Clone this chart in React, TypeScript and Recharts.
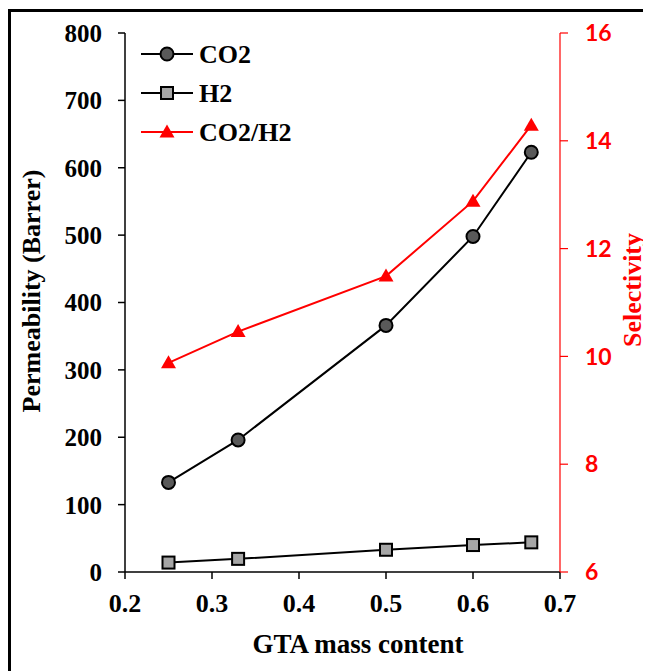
import React from 'react';
import { LineChart, Line, XAxis, YAxis, Legend } from 'recharts';

const gtaContent = [0.25, 0.33, 0.5, 0.6, 0.667];
const co2Permeability = [133, 196, 366, 498, 623];
const h2Permeability = [14, 19.5, 33, 40, 44];
const selectivity = [9.88, 10.46, 11.49, 12.88, 14.29];
const xTicks = [0.2, 0.3, 0.4, 0.5, 0.6, 0.7];
const leftTicks = [0, 100, 200, 300, 400, 500, 600, 700, 800];
const rightTicks = [6, 8, 10, 12, 14, 16];

const data = gtaContent.map((x, i) => ({
  x,
  co2: co2Permeability[i],
  h2: h2Permeability[i],
  sel: selectivity[i],
}));

const SERIF = '"Liberation Serif", "Times New Roman", serif';
const RED = '#FF0000';

const CircleDot = (p: any) => {
  if (p.cx == null || p.cy == null) return null;
  return <circle key={`c-${p.index}`} cx={p.cx} cy={p.cy} r={6.5} fill="#595959" stroke="#000" strokeWidth={2} />;
};

const SquareDot = (p: any) => {
  if (p.cx == null || p.cy == null) return null;
  return <rect key={`s-${p.index}`} x={p.cx - 6} y={p.cy - 6} width={12} height={12} fill="#A6A6A6" stroke="#000" strokeWidth={2} />;
};

const TriangleDot = (p: any) => {
  if (p.cx == null || p.cy == null) return null;
  const { cx, cy } = p;
  return <path key={`t-${p.index}`} d={`M${cx},${cy - 7.5} L${cx + 7.5},${cy + 5.5} L${cx - 7.5},${cy + 5.5} Z`} fill={RED} />;
};

const legendRows = [
  { name: 'CO2', color: '#000', marker: 'circle' },
  { name: 'H2', color: '#000', marker: 'square' },
  { name: 'CO2/H2', color: RED, marker: 'triangle' },
];

const LegendContent = () => (
  <svg width={220} height={125}>
    {legendRows.map((r, i) => {
      const y = 20 + i * 39;
      const cx = 26;
      return (
        <g key={r.name}>
          <line x1={0} x2={52} y1={y} y2={y} stroke={r.color} strokeWidth={2} />
          {r.marker === 'circle' && <circle cx={cx} cy={y} r={6.5} fill="#595959" stroke="#000" strokeWidth={2} />}
          {r.marker === 'square' && <rect x={cx - 6} y={y - 6} width={12} height={12} fill="#A6A6A6" stroke="#000" strokeWidth={2} />}
          {r.marker === 'triangle' && <path d={`M${cx},${y - 7.5} L${cx + 7.5},${y + 5.5} L${cx - 7.5},${y + 5.5} Z`} fill={RED} />}
          <text x={58} y={y + 9} fontFamily={SERIF} fontWeight="bold" fontSize={26} fill="#000">{r.name}</text>
        </g>
      );
    })}
  </svg>
);

const RotatedLabel = ({ text, cx, cy, color }: { text: string; cx: number; cy: number; color: string }) => (
  <text
    x={cx}
    y={cy}
    transform={`rotate(-90 ${cx} ${cy})`}
    textAnchor="middle"
    dominantBaseline="central"
    fontFamily={SERIF}
    fontWeight="bold"
    fontSize={26}
    fill={color}
  >
    {text}
  </text>
);

export default function App() {
  return (
    <div style={{ position: 'relative', width: 643, height: 663, overflow: 'hidden', background: '#fff' }}>
      <div
        style={{
          position: 'absolute', left: 0, top: 1, width: 700, height: 720,
          border: '3px solid #000', boxSizing: 'border-box',
        }}
      />
      <div style={{ position: 'absolute', left: 0, top: 0 }}>
        <LineChart width={643} height={663} data={data} margin={{ top: 25, right: 0, bottom: 0, left: 0 }}>
          <XAxis
            dataKey="x"
            type="number"
            domain={[0.2, 0.7]}
            ticks={xTicks}
            tickFormatter={(v) => v.toFixed(1)}
            height={99}
            stroke="#000"
            strokeWidth={1.5}
            tickSize={7}
            tickMargin={15}
            tick={{ fill: '#000', fontSize: 26, fontFamily: SERIF, fontWeight: 'bold' }}
            label={{
              content: () => (
                <text x={350} y={645} textAnchor="middle" fontFamily={SERIF} fontWeight="bold" fontSize={27} fill="#000">
                  GTA mass content
                </text>
              ),
            }}
          />
          <YAxis
            yAxisId="perm"
            domain={[0, 800]}
            ticks={leftTicks}
            width={117}
            stroke="#000"
            strokeWidth={1.5}
            tickSize={7}
            tickMargin={16}
            tick={{ fill: '#000', fontSize: 25, fontFamily: SERIF, fontWeight: 'bold' }}
            label={{ content: () => <RotatedLabel text="Permeability (Barrer)" cx={23} cy={283} color="#000" /> }}
          />
          <YAxis
            yAxisId="sel"
            orientation="right"
            domain={[6, 16]}
            ticks={rightTicks}
            width={91}
            stroke={RED}
            strokeWidth={1.2}
            tickSize={8}
            tickMargin={17}
            tick={{ fill: RED, fontSize: 23, fontFamily: 'Lato, "Open Sans", sans-serif', fontWeight: 'bold' }}
            label={{ content: () => <RotatedLabel text="Selectivity" cx={624} cy={282} color={RED} /> }}
          />
          <Legend
            layout="vertical"
            align="center"
            verticalAlign="middle"
            content={() => <LegendContent />}
            wrapperStyle={{ top: 26, left: 133, width: 220, height: 125 }}
          />
          <Line yAxisId="perm" dataKey="co2" name="CO2" stroke="#000" strokeWidth={2} dot={CircleDot} isAnimationActive={false} />
          <Line yAxisId="perm" dataKey="h2" name="H2" stroke="#000" strokeWidth={2} dot={SquareDot} isAnimationActive={false} />
          <Line yAxisId="sel" dataKey="sel" name="CO2/H2" stroke={RED} strokeWidth={2} dot={TriangleDot} isAnimationActive={false} />
        </LineChart>
      </div>
    </div>
  );
}
